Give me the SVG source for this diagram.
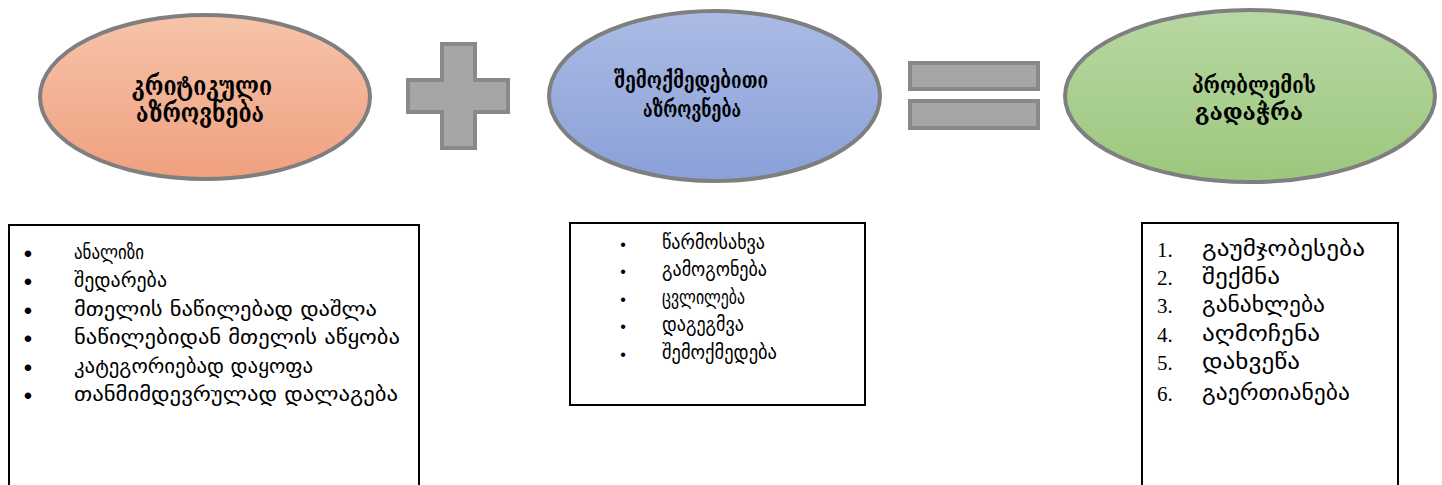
<svg xmlns="http://www.w3.org/2000/svg" width="1442" height="485" viewBox="0 0 1442 485">
<defs>
<linearGradient id="gOrange" x1="0" y1="0" x2="0" y2="1"><stop offset="0" stop-color="#f6c4aa"/><stop offset="1" stop-color="#f0a07f"/></linearGradient>
<linearGradient id="gBlue" x1="0" y1="0" x2="0" y2="1"><stop offset="0" stop-color="#abbbe4"/><stop offset="1" stop-color="#8aa0d8"/></linearGradient>
<linearGradient id="gGreen" x1="0" y1="0" x2="0" y2="1"><stop offset="0" stop-color="#b8d8a3"/><stop offset="1" stop-color="#9cc77d"/></linearGradient>
<style>
.ell{stroke:#7f7f7f;stroke-width:4}
.title{font-family:"DejaVu Serif","DejaVu Sans",serif;font-weight:bold;font-size:24px;fill:#000;text-anchor:middle}
.op{fill:#a6a6a6;stroke:#898989;stroke-width:4}
.box{fill:#fff;stroke:#000;stroke-width:2}
.item{font-family:"DejaVu Sans",sans-serif;font-size:19px;fill:#000}
.item3{font-family:"DejaVu Sans",sans-serif;font-size:21px;fill:#000}
.bul{font-family:"Liberation Sans",sans-serif;font-size:24px;fill:#000;text-anchor:middle}
.bul2{font-family:"Liberation Sans",sans-serif;font-size:16px;fill:#000;text-anchor:middle}
.num{font-family:"Liberation Serif",serif;font-size:21px;fill:#000}
</style>
</defs>
<rect width="1442" height="485" fill="#fff"/>

<g id="node-critical">
<ellipse class="ell" cx="205" cy="97" rx="165" ry="82" fill="url(#gOrange)"/>
<text class="title" x="202" y="95" style="font-size:26px" textLength="140" lengthAdjust="spacingAndGlyphs">კრიტიკული</text>
<text class="title" x="200" y="122" style="font-size:26px" textLength="128" lengthAdjust="spacingAndGlyphs">აზროვნება</text>
</g>

<g id="op-plus">
<path class="op" d="M442 44 H475 V80 H508 V112 H475 V148 H442 V112 H408 V80 H442 Z"/>
</g>

<g id="node-creative">
<ellipse class="ell" cx="714.5" cy="96" rx="165.5" ry="85" fill="url(#gBlue)"/>
<text class="title" x="691" y="88" textLength="154" lengthAdjust="spacingAndGlyphs">შემოქმედებითი</text>
<text class="title" x="692" y="117" textLength="98" lengthAdjust="spacingAndGlyphs">აზროვნება</text>
</g>

<g id="op-equals">
<rect class="op" x="910" y="63" width="128" height="26"/>
<rect class="op" x="910" y="101" width="128" height="27"/>
</g>

<g id="node-solution">
<ellipse class="ell" cx="1250" cy="96" rx="185" ry="86" fill="url(#gGreen)"/>
<text class="title" x="1254" y="93" textLength="124" lengthAdjust="spacingAndGlyphs">პრობლემის</text>
<text class="title" x="1249" y="120" textLength="108" lengthAdjust="spacingAndGlyphs">გადაჭრა</text>
</g>

<g id="list-critical">
<rect class="box" x="9" y="225" width="410" height="270"/>
<text class="bul" x="28" y="261.5">•</text>
<text class="bul" x="28" y="289.5">•</text>
<text class="bul" x="28" y="318.5">•</text>
<text class="bul" x="28" y="346.5">•</text>
<text class="bul" x="28" y="375.5">•</text>
<text class="bul" x="28" y="403.5">•</text>
<text class="item" x="74" y="259" textLength="70" lengthAdjust="spacingAndGlyphs">ანალიზი</text>
<text class="item" x="74" y="287" textLength="93" lengthAdjust="spacingAndGlyphs">შედარება</text>
<text class="item" x="74" y="316" textLength="303" lengthAdjust="spacingAndGlyphs">მთელის ნაწილებად დაშლა</text>
<text class="item" x="74" y="344" textLength="326" lengthAdjust="spacingAndGlyphs">ნაწილებიდან მთელის აწყობა</text>
<text class="item" x="74" y="373" textLength="239" lengthAdjust="spacingAndGlyphs">კატეგორიებად დაყოფა</text>
<text class="item" x="74" y="401" textLength="324" lengthAdjust="spacingAndGlyphs">თანმიმდევრულად დალაგება</text>
</g>

<g id="list-creative">
<rect class="box" x="570" y="223" width="295" height="182"/>
<text class="bul2" x="623" y="250">•</text>
<text class="bul2" x="623" y="277">•</text>
<text class="bul2" x="623" y="305">•</text>
<text class="bul2" x="623" y="332">•</text>
<text class="bul2" x="623" y="360">•</text>
<text class="item" x="662" y="249" textLength="103" lengthAdjust="spacingAndGlyphs">წარმოსახვა</text>
<text class="item" x="662" y="276" textLength="105" lengthAdjust="spacingAndGlyphs">გამოგონება</text>
<text class="item" x="662" y="304" textLength="83" lengthAdjust="spacingAndGlyphs">ცვლილება</text>
<text class="item" x="662" y="331" textLength="82" lengthAdjust="spacingAndGlyphs">დაგეგმვა</text>
<text class="item" x="662" y="359" textLength="115" lengthAdjust="spacingAndGlyphs">შემოქმედება</text>
</g>

<g id="list-solution">
<rect class="box" x="1142" y="223" width="256" height="270"/>
<text class="num" x="1157" y="257">1.</text>
<text class="num" x="1157" y="285">2.</text>
<text class="num" x="1157" y="313">3.</text>
<text class="num" x="1157" y="342">4.</text>
<text class="num" x="1157" y="370">5.</text>
<text class="num" x="1157" y="401">6.</text>
<text class="item3" x="1202" y="256" textLength="163" lengthAdjust="spacingAndGlyphs">გაუმჯობესება</text>
<text class="item3" x="1202" y="284" textLength="78" lengthAdjust="spacingAndGlyphs">შექმნა</text>
<text class="item3" x="1202" y="312" textLength="123" lengthAdjust="spacingAndGlyphs">განახლება</text>
<text class="item3" x="1202" y="341" textLength="118" lengthAdjust="spacingAndGlyphs">აღმოჩენა</text>
<text class="item3" x="1202" y="369" textLength="98" lengthAdjust="spacingAndGlyphs">დახვეწა</text>
<text class="item3" x="1202" y="400" textLength="148" lengthAdjust="spacingAndGlyphs">გაერთიანება</text>
</g>
<g id="connectors"></g>
</svg>
